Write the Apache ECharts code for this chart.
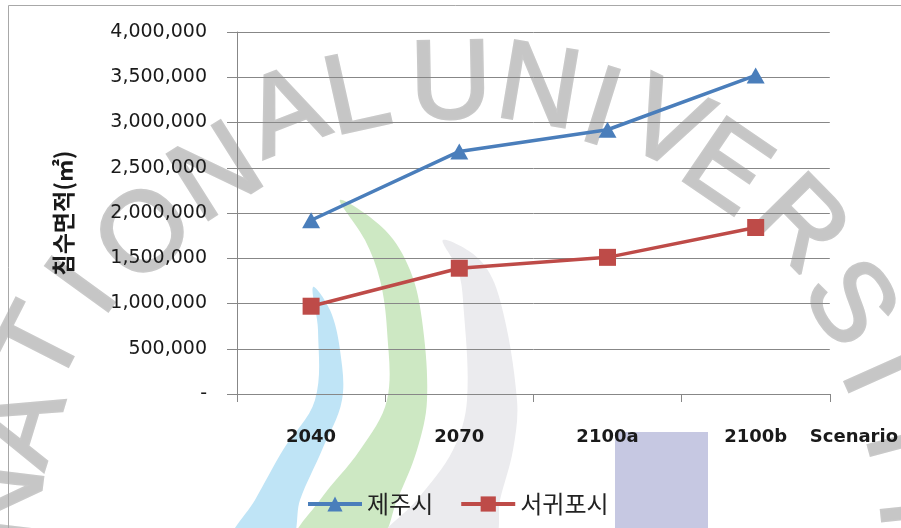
<!DOCTYPE html>
<html>
<head>
<meta charset="utf-8">
<script src="https://cdn.jsdelivr.net/npm/echarts@6/dist/echarts.min.js"></script>
<style>
  html, body { margin: 0; padding: 0; background: #ffffff; }
  #chart { width: 901px; height: 528px; }
</style>
</head>
<body>
<div id="chart"></div>
<script>
// Flooded area (m²) by climate scenario
const scenarios = ['2040', '2070', '2100a', '2100b'];
const jejuCity = [1920000, 2680000, 2920000, 3520000];
const seogwipoCity = [970000, 1390000, 1510000, 1840000];
const seriesNames = ['제주시', '서귀포시'];
const yMin = 0;
const yMax = 4000000;
const yStep = 500000;
const xAxisTitle = 'Scenario';
const yAxisTitle = '침수면적(㎡)';

// Background seal: lettering laid on an arc, plus coloured bands
const sealLetters = 'NATIONALUNIVERSITY'.split('');
const sealAngles = [-83, -73, -63, -54, -44, -32.2, -21.3, -12.5, -1.1, 9.5, 17.4, 25.5, 34.2, 45.4, 56.6, 65.9, 75, 84];
const sealRadii  = [455, 455, 468, 462, 450, 453, 476, 473, 473, 475, 469, 477, 470, 474, 463, 455, 455, 455];
const sealCx = 460, sealCy = 560;

const bandBlue = [[313,287],[318,330],[315,400],[283,450],[255,500],[232,540],[290,540],[300,500],[322,450],[342,400],[340,350],[330,310]];
const bandGreen = [[340,200],[365,240],[380,280],[387,330],[387,400],[360,450],[320,500],[296,540],[378,540],[397,500],[417,450],[427,400],[422,320],[410,270],[385,230]];
const bandGrey = [[443,240],[458,270],[463,300],[467,400],[453,450],[417,500],[382,540],[492,540],[500,500],[513,450],[517,400],[500,300],[480,260]];

const sealElements = [];
sealElements.push({ type: 'polygon', z: -20, shape: { points: bandBlue, smooth: 0.35 }, style: { fill: '#bfe4f6' } });
sealElements.push({ type: 'polygon', z: -20, shape: { points: bandGreen, smooth: 0.35 }, style: { fill: '#cde8c3' } });
sealElements.push({ type: 'polygon', z: -20, shape: { points: bandGrey, smooth: 0.35 }, style: { fill: '#ebebee' } });
sealElements.push({ type: 'rect', z: -20, shape: { x: 615, y: 432, width: 93, height: 110 }, style: { fill: '#c6c8e2' } });
sealLetters.forEach(function (ch, i) {
  const a = sealAngles[i] * Math.PI / 180;
  const r = sealRadii[i];
  sealElements.push({
    type: 'text', z: -15,
    x: sealCx + r * Math.sin(a),
    y: sealCy - r * Math.cos(a),
    rotation: -a,
    style: {
      text: ch, fill: '#c6c6c6', font: '112px "Liberation Sans"',
      stroke: '#c9c9c9', lineWidth: 3,
      align: 'center', verticalAlign: 'middle',
      shadowBlur: 7, shadowColor: 'rgba(200,200,200,0.9)'
    }
  });
});
// chart frame
sealElements.push({ type: 'rect', z: -5, shape: { x: 8.5, y: 5.5, width: 1000, height: 1000 }, style: { fill: 'none', stroke: '#a8a8a8', lineWidth: 1 } });

const axisGrey = '#878787';

const chart = echarts.init(document.getElementById('chart'), null, { renderer: 'canvas' });
chart.setOption({
  backgroundColor: '#ffffff',
  animation: false,
  graphic: { elements: sealElements },
  grid: { left: 237, right: 66, top: 32, bottom: 134, containLabel: false },
  legend: {
    data: seriesNames,
    left: 306,
    top: 492,
    padding: 0,
    itemWidth: 54,
    itemHeight: 19,
    itemGap: 26,
    lineStyle: { width: 4 },
    textStyle: { fontFamily: '"Noto Sans CJK KR"', fontSize: 24, color: '#222222' }
  },
  xAxis: {
    type: 'category',
    data: scenarios,
    boundaryGap: true,
    name: xAxisTitle,
    nameLocation: 'end',
    nameGap: -20,
    nameTextStyle: {
      fontFamily: '"DejaVu Sans"', fontWeight: 'bold', fontSize: 18, color: '#1a1a1a',
      align: 'left', verticalAlign: 'top', padding: [34, 0, 0, 0]
    },
    axisLine: { lineStyle: { color: axisGrey, width: 1 } },
    axisTick: { show: true, length: 8, lineStyle: { color: axisGrey } },
    axisLabel: { margin: 34, fontFamily: '"DejaVu Sans"', fontWeight: 'bold', fontSize: 18, color: '#1a1a1a' },
    splitLine: { show: false }
  },
  yAxis: {
    type: 'value',
    min: yMin,
    max: yMax,
    interval: yStep,
    name: yAxisTitle,
    nameLocation: 'middle',
    nameRotate: 90,
    nameGap: 162,
    nameTextStyle: { fontFamily: '"Noto Sans CJK KR"', fontWeight: 'bold', fontSize: 23, color: '#1a1a1a' },
    axisLine: { show: true, lineStyle: { color: axisGrey, width: 1 } },
    axisTick: { show: true, length: 10, lineStyle: { color: axisGrey } },
    axisLabel: {
      margin: 30, fontFamily: '"DejaVu Sans"', fontSize: 19, color: '#1a1a1a',
      formatter: function (v) { return v === 0 ? '-' : v.toLocaleString('en-US'); }
    },
    splitLine: { show: true, lineStyle: { color: axisGrey, width: 1 } }
  },
  series: [
    {
      name: seriesNames[0],
      type: 'line',
      data: jejuCity,
      symbol: 'triangle',
      symbolSize: [18, 16],
      itemStyle: { color: '#4a7ebb' },
      lineStyle: { color: '#4a7ebb', width: 3.5 },
      z: 3
    },
    {
      name: seriesNames[1],
      type: 'line',
      data: seogwipoCity,
      symbol: 'rect',
      symbolSize: 17,
      itemStyle: { color: '#be4b48' },
      lineStyle: { color: '#be4b48', width: 3.5 },
      z: 3
    }
  ]
});
</script>
</body>
</html>
